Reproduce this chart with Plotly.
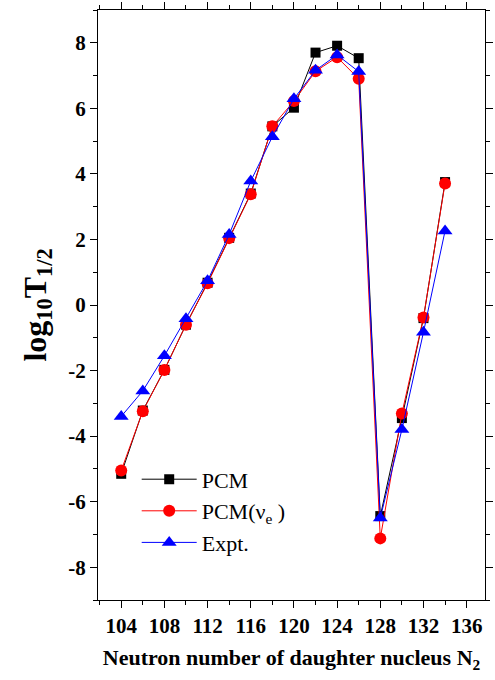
import plotly.graph_objects as go

N = [104, 106, 108, 110, 112, 114, 116, 118, 120, 122, 124, 126, 128, 130, 132, 134]
pcm = [-5.15, -3.22, -1.98, -0.6, 0.68, 2.05, 3.4, 5.45, 6.02, 7.70, 7.91, 7.53, -6.44, -3.45, -0.4, 3.75]
pcm_nue = [-5.05, -3.24, -1.98, -0.6, 0.66, 2.04, 3.38, 5.45, 6.22, 7.13, 7.56, 6.90, -7.12, -3.31, -0.38, 3.71]
expt = [-3.40, -2.62, -1.55, -0.42, 0.74, 2.15, 3.78, 5.13, 6.29, 7.16, 7.63, 7.12, -6.50, -3.80, -0.83, 2.26]

x_tickvals = [104, 108, 112, 116, 120, 124, 128, 132, 136]
x_ticktext = ["104", "108", "112", "116", "120", "124", "128", "132", "136"]
y_tickvals = [-8, -6, -4, -2, 0, 2, 4, 6, 8]
y_ticktext = ["-8", "-6", "-4", "-2", "0", "2", "4", "6", "8"]

FONT = "Liberation Serif"

fig = go.Figure()
fig.add_trace(go.Scatter(x=N, y=pcm, mode="lines+markers", name="PCM",
                         line=dict(color="black", width=1),
                         marker=dict(symbol="square", size=10, color="black")))
fig.add_trace(go.Scatter(x=N, y=pcm_nue, mode="lines+markers", name="PCM(ν<sub>e</sub> )",
                         line=dict(color="#ff0000", width=1),
                         marker=dict(symbol="circle", size=12, color="#ff0000")))
fig.add_trace(go.Scatter(x=N, y=expt, mode="lines+markers", name="Expt.",
                         line=dict(color="#0000ff", width=1),
                         marker=dict(symbol="triangle-up", size=13, color="#0000ff")))

axis_common = dict(showline=True, linecolor="black", linewidth=1, mirror="allticks",
                   ticks="outside", tickcolor="black", showgrid=False, zeroline=False,
                   tickfont=dict(family=FONT, size=21, color="black", weight=700))

fig.update_layout(
    width=495, height=680,
    margin=dict(l=98, r=2, t=3, b=80),
    plot_bgcolor="white", paper_bgcolor="white",
    font=dict(family=FONT, color="black"),
    xaxis=dict(range=[101.85, 137.7], tickvals=x_tickvals,
               ticktext=["<b>%s</b>" % t for t in x_ticktext], ticklen=7,
               minor=dict(dtick=2, tick0=104, ticklen=4, ticks="outside", tickcolor="black"),
               title=dict(text="Neutron number of daughter nucleus N<sub>2</sub>",
                          font=dict(family=FONT, size=22, color="black", weight=700),
                          standoff=12),
               **axis_common),
    yaxis=dict(range=[-9, 9], tickvals=y_tickvals,
               ticktext=["<b>%s</b>" % t for t in y_ticktext], ticklen=7,
               minor=dict(dtick=1, tick0=0, ticklen=4, ticks="outside", tickcolor="black"),
               title=dict(text="log<sub>10</sub>T<sub>1/2</sub>",
                          font=dict(family=FONT, size=32, color="black", weight=700),
                          standoff=12),
               **axis_common),
    legend=dict(x=0.1, y=0.24, xanchor="left", yanchor="top",
                bgcolor="rgba(0,0,0,0)", itemwidth=55,
                font=dict(family=FONT, size=22, color="black"),
                tracegroupgap=0),
)

fig.write_html("out.html")
